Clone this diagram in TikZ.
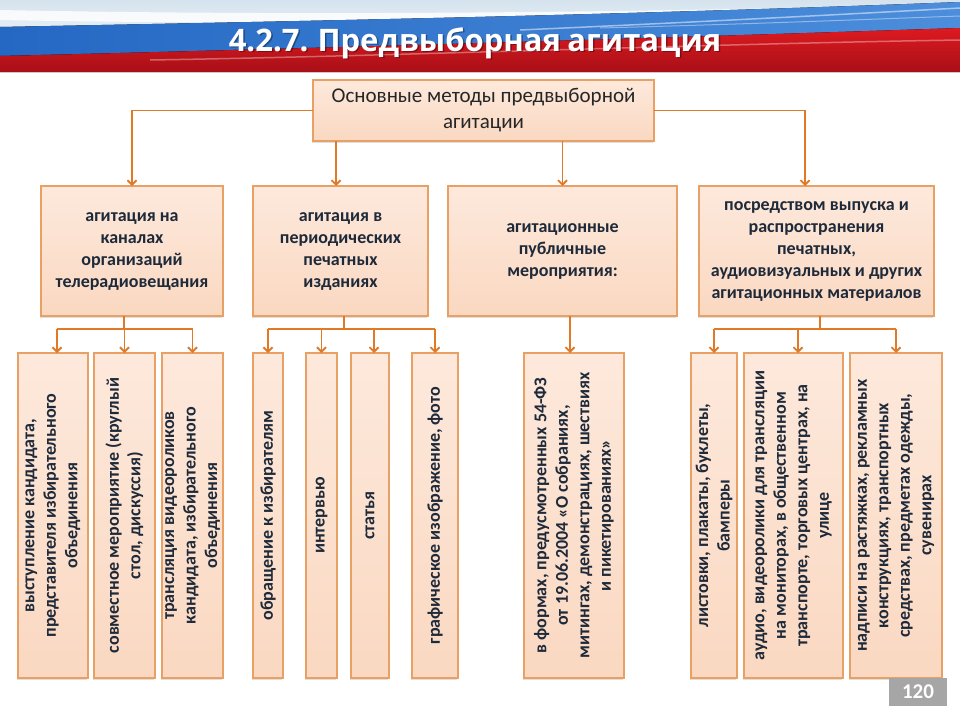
\documentclass[tikz,border=0pt]{standalone}
\usepackage{fontspec}
\setmainfont{Carlito}
\newfontfamily\titlefont{Open Sans}[WordSpace=0.8]
\usetikzlibrary{arrows.meta,shadows}
\definecolor{boxtop}{HTML}{FDE9DC}
\definecolor{boxbot}{HTML}{FAD8C1}
\definecolor{boxline}{HTML}{E9A064}
\definecolor{conncol}{HTML}{E07A27}
\definecolor{txt}{HTML}{1E2A3A}
\definecolor{toptxt}{HTML}{262626}
\definecolor{flagblue}{HTML}{2468C4}
\definecolor{flagblueL}{HTML}{4C8EDB}
\definecolor{flagred}{HTML}{DD1A20}
\definecolor{flagredD}{HTML}{A80F17}
\definecolor{sky}{HTML}{D5E3EE}
\definecolor{pggray}{HTML}{A6A6A6}
\tikzset{
  basebox/.style={draw=boxline, line width=1.5pt, top color=boxtop, bottom color=boxbot,
    inner sep=0pt, outer sep=0pt, align=center, text=txt,
    drop shadow={shadow xshift=-1pt, shadow yshift=-1.5pt, opacity=0.25}},
  topbox/.style={basebox, text=toptxt, font=\fontsize{21}{26}\selectfont},
  catbox/.style={basebox, font=\bfseries\fontsize{18}{22}\selectfont},
  leafbox/.style={basebox, rotate=90, minimum width=325pt,
    font=\bfseries\fontsize{18}{21.5}\selectfont},
  line/.style={draw=conncol, line width=1.8pt},
  conn/.style={line, -{Straight Barb[length=4.5pt,width=9pt]}}
}
\begin{document}
\begin{tikzpicture}[x=1pt,y=-1pt]
\useasboundingbox (0,0) rectangle (960,720);
\fill[white] (0,0) rectangle (960,720);
% banner
\fill[top color=sky, bottom color=white] (0,0) rectangle (960,72);
\fill[white, opacity=0.8] (0,10) .. controls (200,14) and (500,16) .. (960,4) -- (960,10) .. controls (500,24) and (200,24) .. (0,20) -- cycle;
\fill[left color=flagblue, right color=flagblueL] (0,27) .. controls (250,22) and (600,16) .. (960,2) -- (960,34) .. controls (600,42) and (250,52) .. (0,60) -- cycle;
\draw[white, opacity=0.5, line width=1.5pt] (520,30) .. controls (700,22) and (850,14) .. (960,8);
\draw[white, opacity=0.4, line width=1pt] (600,28) .. controls (750,24) and (850,20) .. (960,16);
\fill[top color=flagred, bottom color=flagredD] (0,56) .. controls (250,50) and (600,40) .. (960,28) -- (960,72) -- (0,72) -- cycle;
\draw[white, opacity=0.35, line width=1.5pt] (150,60) .. controls (400,56) and (700,44) .. (960,40);
\node[font=\titlefont\bfseries\fontsize{31}{31}\selectfont, text=black, opacity=0.35] (titlesh) at (476.5,44.5) {4.2.7. Предвыборная агитация};
\node[font=\titlefont\bfseries\fontsize{31}{31}\selectfont, text=white] (title) at (475,43) {4.2.7. Предвыборная агитация};
% top box
\node[topbox, minimum width=341pt, minimum height=61pt] (top) at (483.5,110.5) {Основные методы предвыборной\\агитации};
% categories
\node[catbox, minimum width=182pt, minimum height=130pt] (c1) at (132,251) {агитация на\\каналах\\организаций\\телерадиовещания};
\node[catbox, minimum width=175pt, minimum height=130pt] (c2) at (340.5,251) {агитация в\\периодических\\печатных\\изданиях};
\node[catbox, minimum width=229pt, minimum height=130pt] (c3) at (562.5,251) {агитационные\\публичные\\мероприятия:};
\node[catbox, minimum width=235pt, minimum height=130pt] (c4) at (816.5,251) {посредством выпуска и\\распространения\\печатных,\\аудиовизуальных и других\\агитационных материалов};
% leaves
\node[leafbox, minimum height=70pt] (l11) at (53,515.5) {выступление кандидата,\\представителя избирательного\\объединения};
\node[leafbox, minimum height=61pt] (l12) at (124.5,515.5) {совместное мероприятие (круглый\\стол, дискуссия)};
\node[leafbox, minimum height=61pt] (l13) at (192.5,515.5) {трансляция видеороликов\\кандидата, избирательного\\объединения};
\node[leafbox, minimum height=30pt] (l21) at (268,515.5) {обращение к избирателям};
\node[leafbox, minimum height=31pt] (l22) at (321.5,515.5) {интервью};
\node[leafbox, minimum height=38pt] (l23) at (370,515.5) {статья};
\node[leafbox, minimum height=46pt] (l24) at (435,515.5) {графическое изображение, фото};
\node[leafbox, minimum height=100pt] (l31) at (574,515.5) {в формах, предусмотренных 54-ФЗ\\от 19.06.2004 «О собраниях,\\митингах, демонстрациях, шествиях\\и пикетированиях»};
\node[leafbox, minimum height=46pt] (l41) at (714,515.5) {листовки, плакаты, буклеты,\\бамперы};
\node[leafbox, minimum height=99pt] (l42) at (793.5,515.5) {аудио, видеоролики для трансляции\\на мониторах, в общественном\\транспорте, торговых центрах, на\\улице};
\node[leafbox, minimum height=92pt] (l43) at (896,515.5) {надписи на растяжках, рекламных\\конструкциях, транспортных\\средствах, предметах одежды,\\сувенирах};
% page number
\node[fill=pggray, minimum width=58pt, minimum height=28pt, inner sep=0pt, text=white, font=\bfseries\fontsize{21}{21}\selectfont] (pg) at (918,692) {120};
% connectors top -> categories
\draw[conn] (top.west) -| (c1.north);
\draw[conn] ([xshift=-4.5pt]c2.north |- top.south) -- ([xshift=-4.5pt]c2.north);
\draw[conn] (c3.north |- top.south) -- (c3.north);
\draw[conn] (top.east) -| ([xshift=-11.5pt]c4.north);
% buses
\coordinate (busy) at (0,329);
\draw[line] ([xshift=-8pt]c1.south) -- ([xshift=-8pt]c1.south |- busy);
\draw[line] ([xshift=4pt]l11.east |- busy) -- (l13.east |- busy);
\draw[conn] ([xshift=4pt]l11.east |- busy) -- ([xshift=4pt]l11.east);
\draw[conn] (l12.east |- busy) -- (l12.east);
\draw[conn] (l13.east |- busy) -- (l13.east);
\draw[line] ([xshift=3.5pt]c2.south) -- ([xshift=3.5pt]c2.south |- busy);
\draw[line] (l21.east |- busy) -- (l24.east |- busy);
\draw[conn] (l21.east |- busy) -- (l21.east);
\draw[conn] (l22.east |- busy) -- (l22.east);
\draw[conn] ([xshift=4pt]l23.east |- busy) -- ([xshift=4pt]l23.east);
\draw[conn] (l24.east |- busy) -- (l24.east);
\draw[conn] ([xshift=7.5pt]c3.south) -- ([xshift=7.5pt]c3.south |- l31.east);
\draw[line] ([xshift=3.5pt]c4.south) -- ([xshift=3.5pt]c4.south |- busy);
\draw[line] (l41.east |- busy) -- (l43.east |- busy);
\draw[conn] (l41.east |- busy) -- (l41.east);
\draw[conn] ([xshift=4.5pt]l42.east |- busy) -- ([xshift=4.5pt]l42.east);
\draw[conn] (l43.east |- busy) -- (l43.east);
\end{tikzpicture}
\end{document}
